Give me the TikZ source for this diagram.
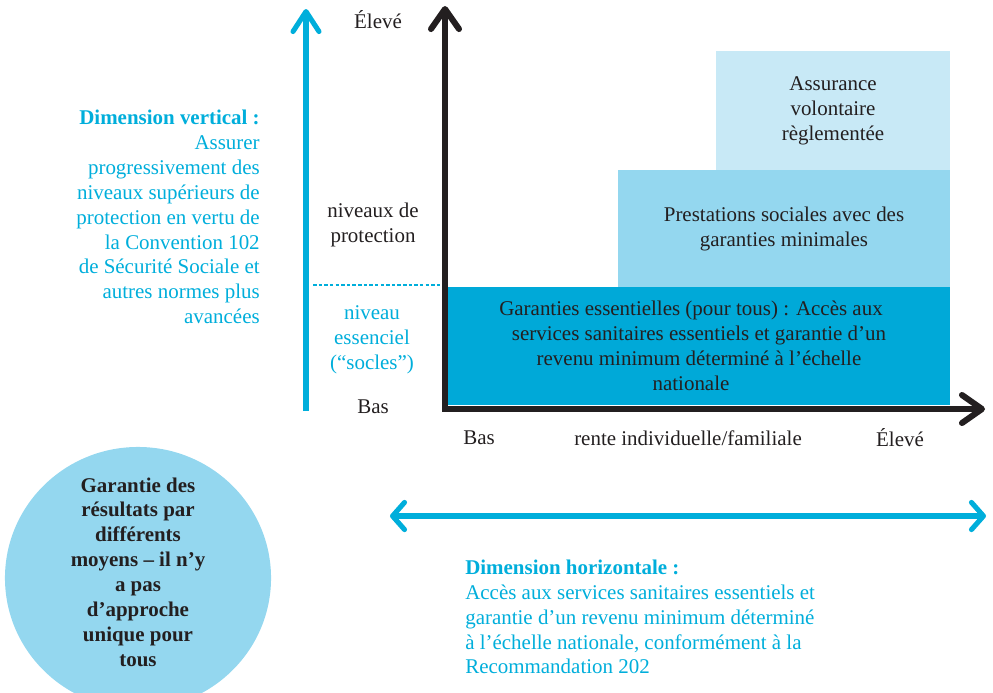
\documentclass[tikz,border=0pt]{standalone}
\usepackage{fontspec}
\setmainfont{Liberation Serif}
\usetikzlibrary{positioning, shapes.geometric, arrows.meta}
\definecolor{spcyan}{HTML}{00AEDB}
\definecolor{spdeep}{HTML}{00A9D8}
\definecolor{spmid}{HTML}{94D7EF}
\definecolor{splight}{HTML}{C8E9F6}
\definecolor{spink}{HTML}{231F20}

\begin{document}
\begin{tikzpicture}[x=0.025cm, y=-0.025cm,
    font=\fontsize{14.9}{17.7}\selectfont, text=spink,
    tier/.style={inner sep=0pt, align=center, minimum height=2.95cm},
    lbl/.style={inner sep=0pt, align=center},
    note/.style={inner sep=0pt, text=spcyan},
    axis/.style={spink, line width=4.3pt},
    bluearr/.style={spcyan, line width=3.6pt}]
  \useasboundingbox (0,0) rectangle (993,692);
  \clip (0,0) rectangle (993,692);

  % tiers of protection
  \node[tier, fill=splight, minimum width=5.85cm] (vol) at (833,110.5)
    {Assurance\\volontaire\\règlementée};
  \node[tier, fill=spmid, minimum width=8.3cm] (prest) at (784,229)
    {Prestations sociales avec des\\garanties minimales};
  \node[tier, fill=spdeep, minimum width=12.55cm] (socle) at (699,346)
    {Garanties essentielles (pour tous) : Accès aux\hspace*{0.4cm}\\services sanitaires essentiels et garantie d’un\hspace*{0.4cm}\\revenu minimum déterminé à l’échelle\hspace*{0.4cm}\\nationale\hspace*{0.4cm}};

  % axes
  \coordinate (ytop) at (445,6);
  \coordinate (orig) at (445,409);
  \coordinate (xend) at (985,409);
  \draw[axis, {Straight Barb[length=0.5cm, width=0.7cm, round]}-{Straight Barb[length=0.5cm, width=0.7cm, round]}]
    (ytop) -- (orig) -- (xend);

  \coordinate (vlow) at (306,411);
  \coordinate (vhigh) at (306,9);
  \draw[bluearr, -{Straight Barb[length=0.5cm, width=0.65cm, round]}] (vlow) -- (vhigh);

  \coordinate (dl) at (313,285);
  \coordinate (dr) at (440,285);
  \draw[spcyan, line width=0.8pt, dash pattern=on 2.5pt off 1.5pt] (dl) -- (dr);

  % vertical scale
  \node[lbl] (vhaut) at (378,20) {Élevé};
  \node[lbl] (niv) at (373,225) {niveaux de\\protection};
  \node[lbl, text=spcyan] (essen) at (372,340) {niveau\\essenciel\\(“socles”)};
  \node[lbl] (vbas) at (373,407) {Bas};

  % horizontal scale
  \node[lbl] (hbas) at (479,438) {Bas};
  \node[lbl] (rente) at (688,438) {rente individuelle/familiale};
  \node[lbl] (hhaut) at (900,438) {Élevé};

  \node[note, align=right, anchor=east] (vdim) at (260,217)
    {\textbf{Dimension vertical :}\\Assurer\hspace*{0.12cm}\\progressivement des\hspace*{0.1cm}\\niveaux supérieurs de\\protection en vertu de\\la Convention 102\\de Sécurité Sociale et\\autres normes plus\\avancées};

  \coordinate (hl) at (390,516);
  \coordinate (hr) at (986,516);
  \draw[bluearr, {Straight Barb[length=0.3cm, width=0.68cm, round]}-{Straight Barb[length=0.3cm, width=0.68cm, round]}] (hl) -- (hr);

  \node[note, align=left, anchor=west] (hdim) at (465,617)
    {\textbf{Dimension horizontale :}\\Accès aux services sanitaires essentiels et\\garantie d’un revenu minimum déterminé\\à l’échelle nationale, conformément à la\\Recommandation 202};

  \node[ellipse, fill=spmid, minimum width=6.65cm, minimum height=6.55cm, inner sep=0pt] (moyens) at (138,578) {};
  \node[lbl, font=\fontsize{14.9}{17.7}\selectfont\bfseries] (moyenstxt) at (138,572)
    {Garantie des\\résultats par\\différents\\moyens – il n’y\\a pas\\d’approche\\unique pour\\tous};
\end{tikzpicture}
\end{document}
